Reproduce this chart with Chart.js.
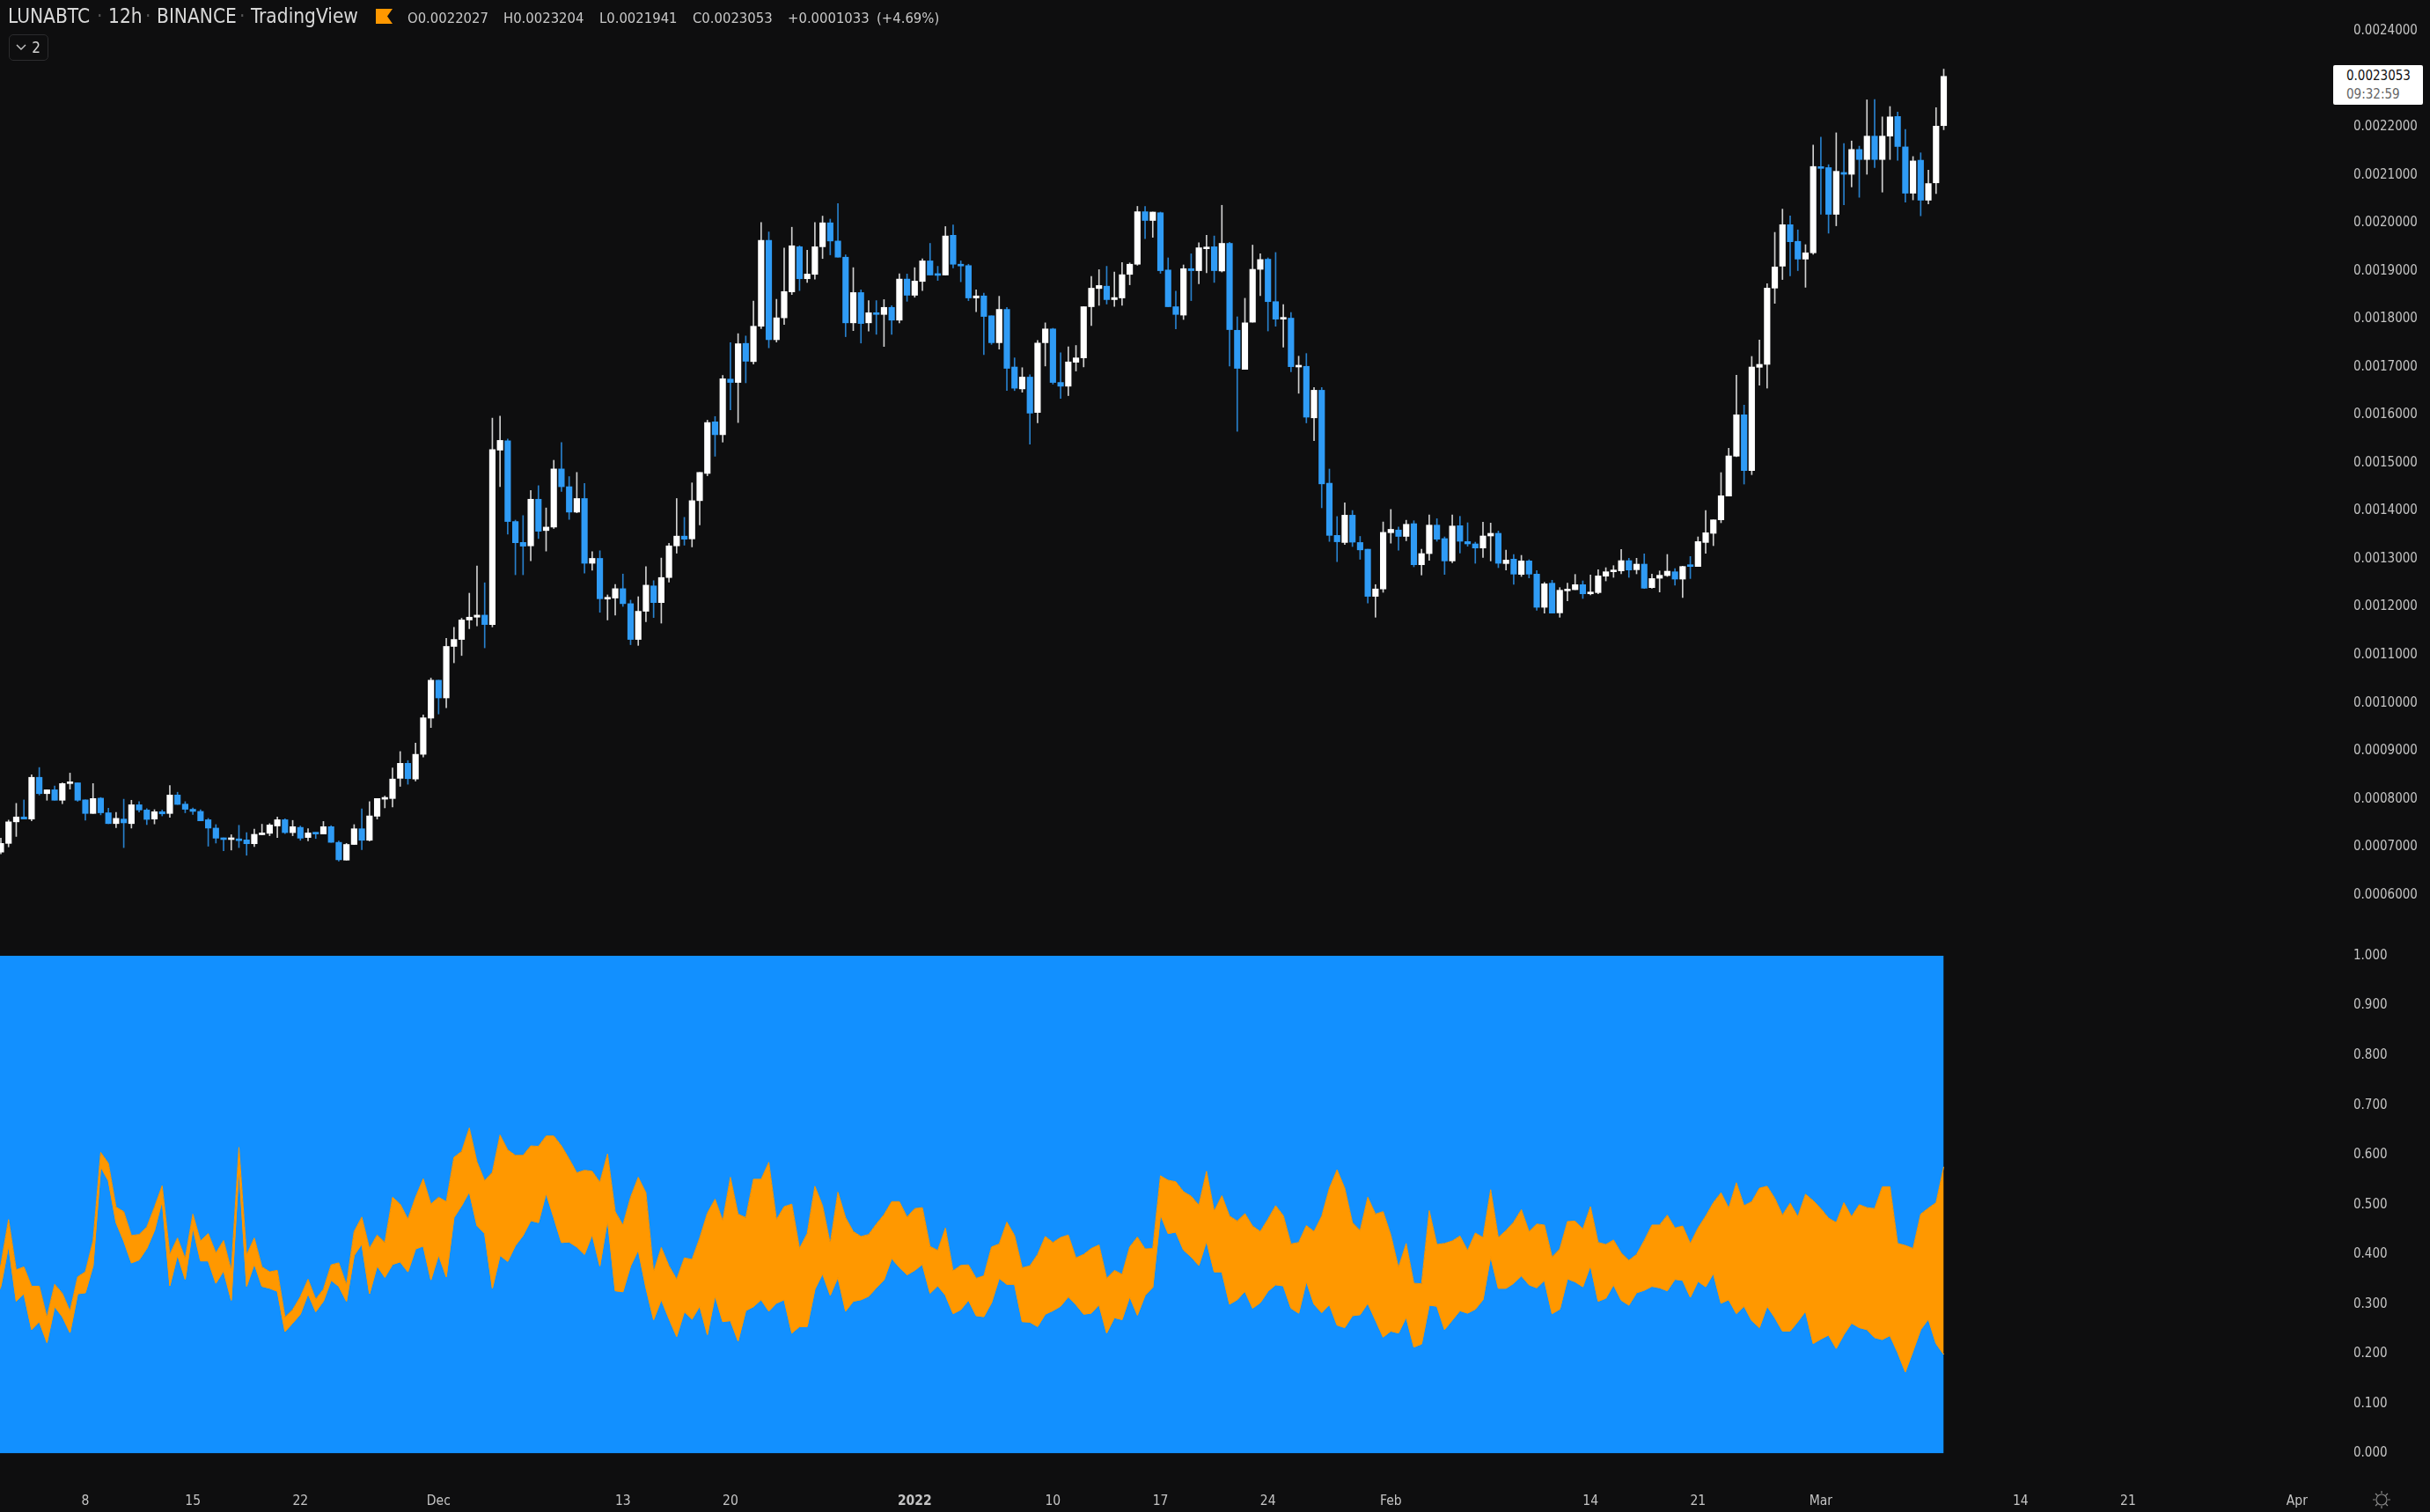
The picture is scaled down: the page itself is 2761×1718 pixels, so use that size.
<!DOCTYPE html>
<html>
<head>
<meta charset="utf-8">
<title>LUNABTC 12h</title>
<script src="https://cdn.jsdelivr.net/npm/chart.js@4"></script>
<style>
    html, body { margin: 0; padding: 0; background: #0e0e0f; overflow: hidden; }
    body { width: 2761px; height: 1718px; position: relative; font-family: "DejaVu Sans Condensed", "DejaVu Sans", sans-serif; color: #d1d1d1; }
    canvas { position: absolute; left: 0; }
    #price_chart { top: 0; }
    #band_chart { top: 1060px; }
    .label { position: absolute; white-space: nowrap; }
    .title { top: 5px; font-size: 22.5px; color: #d8d8d8; }
    .sep { top: 5px; font-size: 22.5px; color: #555; }
    .ohlc { top: 11px; font-size: 16.5px; color: #c8c8c8; }
    #flag { position: absolute; left: 427px; top: 10px; }
    #legend_toggle { left: 10px; top: 39px; width: 43px; height: 28px; border: 1px solid #2c2c2e; border-radius: 5px; font-size: 17px; line-height: 28px; text-align: right; }
    #legend_toggle b { font-weight: normal; margin-right: 8px; }
    #legend_toggle svg { position: absolute; left: 7px; top: 10px; }
    #last_price { left: 2651px; top: 74px; width: 102px; height: 45px; background: #fff; border-radius: 2px; }
    #last_price div { position: absolute; left: 15px; font-size: 15px; }
    #sun { position: absolute; left: 2695px; top: 1693px; }
</style>
</head>
<body>
<canvas id="price_chart" width="2761" height="1086"></canvas>
<canvas id="band_chart" width="2761" height="658"></canvas>

<div class="label title" style="left:9px">LUNABTC</div>
<div class="label sep" style="left:110px">·</div>
<div class="label title" style="left:123px">12h</div>
<div class="label sep" style="left:165px">·</div>
<div class="label title" style="left:178px">BINANCE</div>
<div class="label sep" style="left:272px">·</div>
<div class="label title" style="left:285px">TradingView</div>
<svg id="flag" width="20" height="18"><path d="M0 0H19L13 8.5L19 17H0Z" fill="#ff9800"/></svg>
<div class="label ohlc" style="left:463px">O0.0022027</div>
<div class="label ohlc" style="left:572px">H0.0023204</div>
<div class="label ohlc" style="left:681px">L0.0021941</div>
<div class="label ohlc" style="left:787px">C0.0023053</div>
<div class="label ohlc" style="left:895px">+0.0001033</div>
<div class="label ohlc" style="left:996px">(+4.69%)</div>
<div class="label" id="legend_toggle"><svg width="12" height="8"><path d="M1 1L6 6L11 1" fill="none" stroke="#c8c8c8" stroke-width="1.4"/></svg><b>2</b></div>
<div class="label" id="last_price">
    <div style="top:3px;color:#111">0.0023053</div>
    <div style="top:24px;color:#666">09:32:59</div>
</div>
<svg id="sun" width="22" height="22" fill="none" stroke="#888" stroke-width="1.2">
    <circle cx="11" cy="11" r="6"/>
    <path d="M11 1V4M11 18V21M1 11H4M18 11H21M4 4L6.5 6.5M15.5 15.5L18 18M4 18L6.5 15.5M15.5 6.5L18 4"/>
</svg>

<script>
/* Candles, in units of 0.0000001 BTC, one per 12h bar */
const candle_open = [
    6892,7073,7522,7624,7580,8450,8110,8190,7972,8320,
    8335,7980,7697,8016,7711,7486,7580,7486,7878,7769,
    7580,7733,7697,8081,7892,7784,7740,7566,7392,7189,
    7153,7160,7146,7066,7254,7283,7436,7566,7298,7407,
    7196,7298,7269,7421,7095,6725,7051,7378,7138,7639,
    7994,8008,8429,8741,8414,8929,9683,10473,10104,11177,
    11322,11728,11786,11829,11633,15266,15461,13779,13344,13272,
    14243,13591,13663,14874,14504,13975,14258,12909,13011,12163,
    12184,12380,12068,11322,11909,12438,12090,12612,13272,13475,
    13417,14214,14781,15855,15588,16746,16676,17490,17111,17847,
    19637,17567,18023,18563,19503,18837,18928,19503,20002,19623,
    19286,17918,18549,17918,18114,18093,18240,17974,18830,18493,
    18781,19209,18921,18914,19742,19125,19111,18437,18479,18065,
    17504,18198,16998,16542,16788,16051,17504,17791,16676,16598,
    17097,17188,18254,18633,18682,18402,18437,18928,19139,20233,
    20051,20212,19019,18254,18079,19047,19005,19461,19503,18998,
    19574,17763,16949,17932,19033,19244,18360,17995,18016,16998,
    17012,15939,16514,14577,13490,13342,13911,13342,13202,12220,
    12374,13546,13602,13469,13734,12879,13111,13704,13423,12958,
    13692,13361,13313,13227,13478,13533,12903,12995,12677,12958,
    12683,11992,12494,11876,12335,12359,12463,12273,12298,12640,
    12732,12750,12964,12775,12891,12402,12597,12653,12732,12579,
    12866,12842,13343,13533,13814,14309,15140,16002,14841,16992,
    17053,18642,19099,19963,19616,19246,19377,21159,21152,20179,
    21051,21013,21530,21321,21808,21321,21808,22217,21584,20619,
    21306,20473,20835,22027
];
const candle_high = [
    7182,7559,7907,7979,8501,8654,8190,8269,8335,8538,
    8335,7980,8320,8030,7805,7718,7994,7972,7943,7798,
    7776,7769,8277,8139,7943,7813,7776,7595,7465,7189,
    7254,7450,7298,7370,7472,7486,7624,7588,7552,7436,
    7378,7298,7530,7443,7124,7073,7465,7791,7943,8008,
    8059,8646,8987,8799,9161,9748,10517,10473,11343,11575,
    11764,12286,12851,12503,15933,15976,15498,13808,13903,14425,
    14526,14062,15055,15425,14715,14802,14570,13149,13170,12250,
    12467,12685,12141,12213,12837,12547,13018,13323,14258,13866,
    14584,14802,15890,15967,16823,17504,17693,17644,18374,20009,
    19812,18409,19475,19910,19524,19433,20009,20142,20079,20402,
    19335,19068,18605,18381,18381,18402,18275,18942,18935,19068,
    19251,19574,19096,19924,19960,19209,19139,18605,18535,18065,
    18472,18240,17188,16984,16837,17553,17918,17805,17293,17419,
    17447,18254,18886,19026,19096,18977,19174,19167,20345,20345,
    20226,20226,19272,18577,19125,19356,19588,19742,19728,20367,
    19595,18044,18430,19538,19356,19272,19384,18297,18135,17223,
    17279,16570,16570,14872,13883,14170,14009,13469,13202,12465,
    13770,14030,13665,13806,13795,13202,13918,13838,13459,13918,
    13887,13753,13349,13765,13747,13582,13184,13093,13074,12983,
    12756,12512,12555,12402,12494,12677,12542,12665,12775,12817,
    12860,13197,13013,13013,13105,12683,12750,13093,12799,12848,
    13050,13459,14009,13814,14798,15305,16827,16204,17218,17560,
    18734,19803,20287,20148,19855,19547,21622,21785,21213,21877,
    21653,21707,21599,22564,22572,22209,22425,22309,21947,21383,
    21460,21098,22402,23204
];
const candle_low = [
    6855,7001,7218,7580,7544,8081,7972,7972,7900,8204,
    7950,7559,7697,7668,7486,7399,6986,7392,7726,7465,
    7479,7646,7617,7885,7711,7675,7544,7015,7080,6921,
    6935,6986,6826,7008,7254,7233,7196,7276,7233,7138,
    7124,7175,7269,7095,6703,6725,7051,6943,7124,7580,
    7813,7834,8262,8306,8371,8871,9487,9770,9901,10836,
    10988,11546,11604,11148,11583,14504,13518,12670,12670,12960,
    13424,13163,13634,14403,13823,13961,12706,12764,11887,11728,
    11829,12010,11213,11198,11691,11778,11662,12518,13120,13286,
    13250,13707,14732,15139,15434,16107,15841,16669,17061,17798,
    17398,17518,17883,18507,18591,18760,18830,19258,19335,19286,
    17630,17756,17497,17749,17679,17426,17679,17918,18367,18451,
    18591,18914,18802,18914,19061,18774,18381,18149,17258,17469,
    17370,16507,16507,16472,15391,15834,17019,16641,16346,16402,
    16914,17000,17861,18282,18310,18261,18282,18711,19118,19672,
    19700,18949,18254,17791,17988,18381,18732,18963,18760,18977,
    17019,15658,16949,17932,18486,17749,17847,17412,16900,16451,
    15834,15462,14065,13364,12943,13300,13258,12992,12079,11785,
    12304,13328,13181,13378,12836,12665,12970,13368,12677,12921,
    13123,13264,12909,13031,12958,12818,12768,12469,12634,12604,
    11931,11870,11870,11785,12127,12359,12176,12249,12273,12542,
    12616,12689,12616,12689,12384,12390,12310,12634,12451,12194,
    12591,12842,13117,13276,13753,14309,15128,14559,14755,16619,
    16558,18324,18821,18898,19006,18659,19346,20179,19786,19940,
    20380,20750,20534,21013,21152,20642,21321,21306,20434,20480,
    20148,20395,20611,21941
];
const candle_close = [
    7073,7522,7624,7580,8450,8110,8190,7972,8320,8340,
    7972,7697,8008,7711,7486,7595,7501,7878,7769,7573,
    7733,7689,8081,7885,7784,7740,7544,7392,7182,7153,
    7167,7131,7066,7262,7291,7457,7566,7298,7421,7182,
    7291,7269,7421,7095,6732,7051,7378,7138,7646,8008,
    8016,8414,8741,8422,8929,9690,10473,10104,11177,11322,
    11728,11786,11829,11633,15280,15469,13779,13337,13265,14243,
    13576,13663,14874,14504,13975,14258,12909,13011,12170,12192,
    12380,12068,11322,11909,12453,12090,12612,13272,13475,13410,
    14214,14802,15841,15588,16753,16676,17483,17118,17847,19637,
    17567,18023,18570,19524,18837,18935,19503,20002,19623,19286,
    17918,18549,17904,18128,18093,18240,17974,18830,18493,18788,
    19209,18914,18907,19728,19139,19103,18437,18479,18051,17504,
    18198,16970,16556,16788,16037,17497,17791,16676,16598,17104,
    17188,18254,18640,18696,18402,18444,18921,19139,20233,20051,
    20226,19005,18254,18093,19047,19005,19482,19489,19005,19574,
    17777,16970,17918,19033,19237,18360,17995,18016,17005,17012,
    15953,16514,14563,13490,13357,13911,13349,13188,12220,12374,
    13553,13616,13469,13721,12879,13111,13704,13410,12958,13685,
    13368,13313,13227,13478,13533,12909,12976,12683,12958,12683,
    11992,12481,11870,12347,12359,12463,12273,12310,12646,12732,
    12762,12964,12769,12891,12390,12591,12659,12744,12579,12842,
    12842,13361,13545,13814,14315,15146,16002,14841,16998,17053,
    18642,19082,19963,19608,19246,19377,21175,21136,20179,21075,
    21013,21530,21321,21808,21321,21808,22209,21592,20619,21291,
    20473,20820,22016,23053
];

/* Lower pane band, in thousandths. First entry is the bar just left of the crop (index -1) */
const band_upper = [
    340,
    380,470,369,375,336,336,274,340,322,286,
    355,365,427,605,583,495,486,438,440,455,
    495,538,400,433,392,481,427,442,403,428,
    368,615,399,433,375,365,368,274,289,315,
    350,310,330,379,383,339,446,475,412,439,
    424,515,501,471,515,552,501,515,506,595,
    607,654,586,548,565,640,610,599,599,618,
    617,638,638,618,592,564,569,567,545,602,
    486,459,515,555,524,365,414,377,350,393,
    390,433,483,511,468,555,481,474,551,551,
    585,470,496,501,412,442,537,498,422,525,
    474,446,436,440,461,480,506,506,475,492,
    494,416,408,453,367,378,379,352,357,415,
    421,465,438,373,377,400,436,424,434,439,
    393,400,412,419,352,368,360,415,435,411,
    412,558,549,546,526,517,499,567,487,518,
    477,467,482,457,446,471,498,478,421,424,
    458,446,477,533,570,533,464,448,515,481,
    486,439,374,422,342,341,488,420,422,427,
    437,408,443,434,530,434,448,465,490,446,
    461,459,395,411,466,467,451,496,424,420,
    429,403,388,400,428,459,459,479,453,457,
    422,453,477,504,524,493,544,498,506,533,
    537,513,479,503,476,521,508,492,473,464,
    504,476,500,494,492,536,536,422,418,412,
    481,493,504,576
];
const band_lower = [
    300,
    336,418,306,321,249,265,223,295,275,243,
    321,323,377,576,548,464,427,383,389,412,
    448,508,337,399,350,454,387,387,342,367,
    308,575,336,381,336,332,326,245,262,280,
    321,285,306,348,336,306,398,421,321,377,
    354,380,385,365,411,417,349,399,355,474,
    498,526,458,442,332,398,386,418,438,468,
    464,523,474,424,425,415,400,440,377,470,
    327,325,377,409,333,269,309,271,235,285,
    270,296,239,317,265,267,226,287,295,309,
    286,302,309,242,255,255,330,361,318,354,
    286,306,309,316,333,349,392,374,359,368,
    380,322,337,318,281,289,308,277,275,303,
    352,340,340,265,264,255,280,287,296,315,
    299,280,282,299,242,273,269,315,278,318,
    334,480,442,445,409,395,378,427,365,365,
    300,309,326,292,303,326,339,337,292,282,
    346,300,283,299,258,253,277,279,302,268,
    234,246,242,274,214,220,298,296,249,268,
    287,282,290,309,396,332,332,342,357,339,
    333,348,281,290,351,345,335,378,306,312,
    339,308,298,323,328,336,333,327,350,348,
    314,346,335,362,302,309,281,296,267,253,
    296,273,246,246,265,286,221,230,238,211,
    239,262,253,249,233,229,237,203,164,206,
    249,270,221,199
];

/* Tick labels */
const price_ticks = [
    0.0006,0.0007,0.0008,0.0009,0.0010,0.0011,0.0012,0.0013,0.0014,0.0015,
    0.0016,0.0017,0.0018,0.0019,0.0020,0.0021,0.0022,0.0023,0.0024
];
const band_ticks = [0,0.1,0.2,0.3,0.4,0.5,0.6,0.7,0.8,0.9,1];
const date_bars = [11,25,39,57,81,95,119,137,151,165,181,207,221,237,263,277,299];
const date_labels = ["8","15","22","Dec","13","20","2022","10","17","24","Feb","14","21","Mar","14","21","Apr"];

/* Colours */
const UP_COLOR = "#ffffff";
const DOWN_COLOR = "#2f9bf5";
const UP_WICK = "#d0d0d0";
const DOWN_WICK = "#2880cc";
const BAND_BLUE = "#1290ff";
const BAND_ORANGE = "#ff9800";
const TEXT_COLOR = "#c4c4c4";
const FONT = "'DejaVu Sans Condensed', 'DejaVu Sans', sans-serif";

/* Shared x range and fixed axis width so that both panes line up */
const X_MIN = -0.115;
const X_MAX = 303.6;
const AXIS_WIDTH = 111;

function setTicks(scale, values) {
    scale.ticks = values.map(value => ({ value: value }));
}

function priceChart() {
    const bars = candle_close.map((close, i) => i);
    const is_up = i => candle_close[i] >= candle_open[i];

    new Chart("price_chart", {
        type: "bar",
        data: {
            datasets: [{
                order: 1,
                data: bars.map(i => ({
                    x: i,
                    y: [Math.min(candle_open[i], candle_close[i]) / 1e7, Math.max(candle_open[i], candle_close[i]) / 1e7]
                })),
                backgroundColor: bars.map(i => is_up(i) ? UP_COLOR : DOWN_COLOR),
                barThickness: 6.5,
                minBarLength: 2,
                grouped: false
            }, {
                order: 2,
                data: bars.map(i => ({ x: i, y: [candle_low[i] / 1e7, candle_high[i] / 1e7] })),
                backgroundColor: bars.map(i => is_up(i) ? UP_WICK : DOWN_WICK),
                barThickness: 1,
                grouped: false
            }]
        },
        options: {
            responsive: false,
            animation: false,
            devicePixelRatio: 1,
            layout: { padding: 0 },
            plugins: { legend: { display: false }, tooltip: { enabled: false } },
            scales: {
                x: {
                    type: "linear",
                    offset: false,
                    min: X_MIN,
                    max: X_MAX,
                    display: false
                },
                y: {
                    position: "right",
                    min: 0.0004732,
                    max: 0.0024644,
                    grid: { display: false },
                    border: { display: false },
                    afterBuildTicks: scale => setTicks(scale, price_ticks),
                    afterFit: scale => {
                        scale.width = AXIS_WIDTH;
                        scale.paddingTop = 0;
                        scale.paddingBottom = 0;
                    },
                    ticks: {
                        color: TEXT_COLOR,
                        padding: 16,
                        font: { family: FONT, size: 15 },
                        autoSkip: false,
                        callback: value => value.toFixed(7)
                    }
                }
            }
        }
    });
}

function bandChart() {
    const bandPoints = values => values.map((value, i) => ({ x: i - 1, y: value / 1000 }));

    new Chart("band_chart", {
        type: "line",
        data: {
            datasets: [{
                data: bandPoints(band_upper),
                borderColor: BAND_ORANGE,
                borderWidth: 1,
                pointRadius: 0,
                tension: 0,
                fill: { target: { value: 1 }, above: BAND_BLUE, below: BAND_BLUE }
            }, {
                data: bandPoints(band_lower),
                borderColor: BAND_ORANGE,
                borderWidth: 1,
                pointRadius: 0,
                tension: 0,
                fill: { target: "-1", above: BAND_ORANGE, below: BAND_ORANGE }
            }, {
                data: bandPoints(band_lower),
                borderColor: BAND_ORANGE,
                borderWidth: 1,
                pointRadius: 0,
                tension: 0,
                fill: { target: { value: 0 }, above: BAND_BLUE, below: BAND_BLUE }
            }]
        },
        options: {
            responsive: false,
            animation: false,
            devicePixelRatio: 1,
            layout: { padding: { top: 26 } },
            plugins: { legend: { display: false }, tooltip: { enabled: false } },
            scales: {
                x: {
                    type: "linear",
                    min: X_MIN,
                    max: X_MAX,
                    grid: { display: false, drawTicks: false },
                    border: { display: false },
                    afterBuildTicks: scale => setTicks(scale, date_bars),
                    afterFit: scale => {
                        scale.height = 66.5;
                        scale.paddingLeft = 0;
                        scale.paddingRight = 0;
                    },
                    ticks: {
                        color: TEXT_COLOR,
                        padding: 45,
                        maxRotation: 0,
                        autoSkip: false,
                        font: ctx => ({
                            family: FONT,
                            size: 15.5,
                            weight: ctx.tick && ctx.tick.label === "2022" ? "bold" : "normal"
                        }),
                        callback: value => date_labels[date_bars.indexOf(value)]
                    }
                },
                y: {
                    position: "right",
                    min: 0,
                    max: 1,
                    grid: { display: false },
                    border: { display: false },
                    afterBuildTicks: scale => setTicks(scale, band_ticks),
                    afterFit: scale => {
                        scale.width = AXIS_WIDTH;
                        scale.paddingTop = 0;
                        scale.paddingBottom = 0;
                    },
                    ticks: {
                        color: TEXT_COLOR,
                        padding: 16,
                        font: { family: FONT, size: 15 },
                        autoSkip: false,
                        callback: value => value.toFixed(3)
                    }
                }
            }
        }
    });
}

priceChart();
bandChart();
</script>
</body>
</html>
